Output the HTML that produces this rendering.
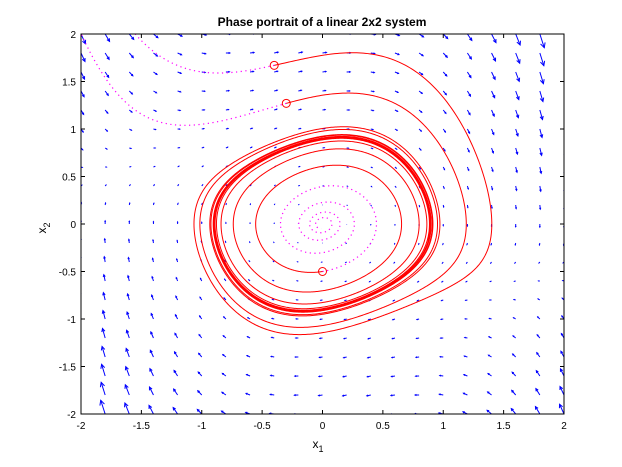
<!DOCTYPE html>
<html><head><meta charset="utf-8"><style>
body{margin:0;background:#fff;}
svg{display:block;font-family:"Liberation Sans",sans-serif;}
</style></head><body>
<svg id="chart" width="622" height="467">
<defs><clipPath id="clip"><rect x="81" y="34" width="483" height="380"/></clipPath></defs>
<rect x="0" y="0" width="622" height="467" fill="#fff"/>
<g id="field" clip-path="url(#clip)"></g>
<g id="traj" clip-path="url(#clip)"></g>
<g id="axes"></g>
<text x="322" y="26" text-anchor="middle" font-size="12" font-weight="bold">Phase portrait of a linear 2x2 system</text>
<text x="318" y="448" text-anchor="middle" font-size="12">x<tspan font-size="9" dy="4">1</tspan></text>
<text transform="translate(46,228) rotate(-90)" text-anchor="middle" font-size="12">x<tspan font-size="9" dy="4">2</tspan></text>
</svg>
<script>
const xTicks=[-2,-1.5,-1,-0.5,0,0.5,1,1.5,2];
const yTicks=[-2,-1.5,-1,-0.5,0,0.5,1,1.5,2];
const xTickLabels=["-2","-1.5","-1","-0.5","0","0.5","1","1.5","2"];
const yTickLabels=["-2","-1.5","-1","-0.5","0","0.5","1","1.5","2"];
const startX=[-0.4,-0.3,0];
const startY=[1.67,1.27,-0.5];
const mu=[1.0];
const ampSq=[0.2];
const forwardTime=[30];
const backwardTime=[25];
const gridVals=[-2,-1.8,-1.6,-1.4,-1.2,-1,-0.8,-0.6,-0.4,-0.2,0,0.2,0.4,0.6,0.8,1,1.2,1.4,1.6,1.8,2];

const X0=81,X1=564,Y0=34,Y1=414;
const sx=v=>X0+(v+2)/4*(X1-X0);
const sy=v=>Y1-(v+2)/4*(Y1-Y0);
const NS='http://www.w3.org/2000/svg';
function mk(t,a,p){const e=document.createElementNS(NS,t);for(const k in a)e.setAttribute(k,a[k]);p.appendChild(e);return e;}
function f(x,y){return [y, mu[0]*(ampSq[0]-x*x)*y - x];}

const field=document.getElementById('field');
let maxM=0;
gridVals.forEach(x=>gridVals.forEach(y=>{const d=f(x,y);maxM=Math.max(maxM,Math.hypot(d[0],d[1]));}));
const sc=0.2*0.9/maxM;
gridVals.forEach((x,i)=>gridVals.forEach((y,j)=>{
  const d=f(x,y);
  const px=sx(x),py=sy(y),qx=sx(x+d[0]*sc),qy=sy(y+d[1]*sc);
  const g=mk('g',{},field);
  
  
  mk('line',{x1:px,y1:py,x2:qx,y2:qy,stroke:'#0000ff','stroke-width':1},g);
  const L=Math.hypot(qx-px,qy-py);
  if(L>0.5){const ux=(qx-px)/L,uy=(qy-py)/L,h=L*0.33;
    mk('path',{d:`M${qx-ux*h-uy*h*0.5},${qy-uy*h+ux*h*0.5}L${qx},${qy}L${qx-ux*h+uy*h*0.5},${qy-uy*h-ux*h*0.5}`,fill:'none',stroke:'#0000ff','stroke-width':1},g);}
}));

const traj=document.getElementById('traj');
function integrate(x,y,T,dir){
  const h=0.01*dir,n=Math.round(T/0.01);const pts=[[x,y]];
  for(let k=0;k<n;k++){
    const k1=f(x,y),k2=f(x+h/2*k1[0],y+h/2*k1[1]),k3=f(x+h/2*k2[0],y+h/2*k2[1]),k4=f(x+h*k3[0],y+h*k3[1]);
    x+=h/6*(k1[0]+2*k2[0]+2*k3[0]+k4[0]);y+=h/6*(k1[1]+2*k2[1]+2*k3[1]+k4[1]);
    pts.push([x,y]);if(Math.abs(x)>3||Math.abs(y)>3)break;}
  return pts;
}
const path=p=>'M'+p.map(q=>sx(q[0]).toFixed(2)+','+sy(q[1]).toFixed(2)).join('L');
startX.forEach((x0,i)=>{
  const y0=startY[i];
  const b=mk('path',{d:path(integrate(x0,y0,backwardTime[0],-1)),fill:'none',stroke:'#ff00ff','stroke-width':1.2,'stroke-dasharray':'1.2 3.5'},traj);
  
  
  const fw=mk('path',{d:path(integrate(x0,y0,forwardTime[0],1)),fill:'none',stroke:'#ff0000','stroke-width':1},traj);
  
  
  const c=mk('circle',{cx:sx(x0),cy:sy(y0),r:4,fill:'none',stroke:'#ff0000','stroke-width':1},traj);
  
  
});

const ax=document.getElementById('axes');
const box=mk('rect',{x:X0,y:Y0,width:X1-X0,height:Y1-Y0,fill:'none',stroke:'#000','stroke-width':1},ax);


xTicks.forEach((v,i)=>{
  const x=sx(v);
  mk('line',{x1:x,y1:Y1,x2:x,y2:Y1-4,stroke:'#000'},ax);
  mk('line',{x1:x,y1:Y0,x2:x,y2:Y0+4,stroke:'#000'},ax);
  const t=mk('text',{x:x,y:Y1+15,'text-anchor':'middle','font-size':10},ax);
  
  
  t.textContent=xTickLabels[i];
});
yTicks.forEach((v,i)=>{
  const y=sy(v);
  mk('line',{x1:X0,y1:y,x2:X0+4,y2:y,stroke:'#000'},ax);
  mk('line',{x1:X1,y1:y,x2:X1-4,y2:y,stroke:'#000'},ax);
  const t=mk('text',{x:X0-5,y:y+4,'text-anchor':'end','font-size':10},ax);
  
  
  t.textContent=yTickLabels[i];
});
</script>
</body></html>
